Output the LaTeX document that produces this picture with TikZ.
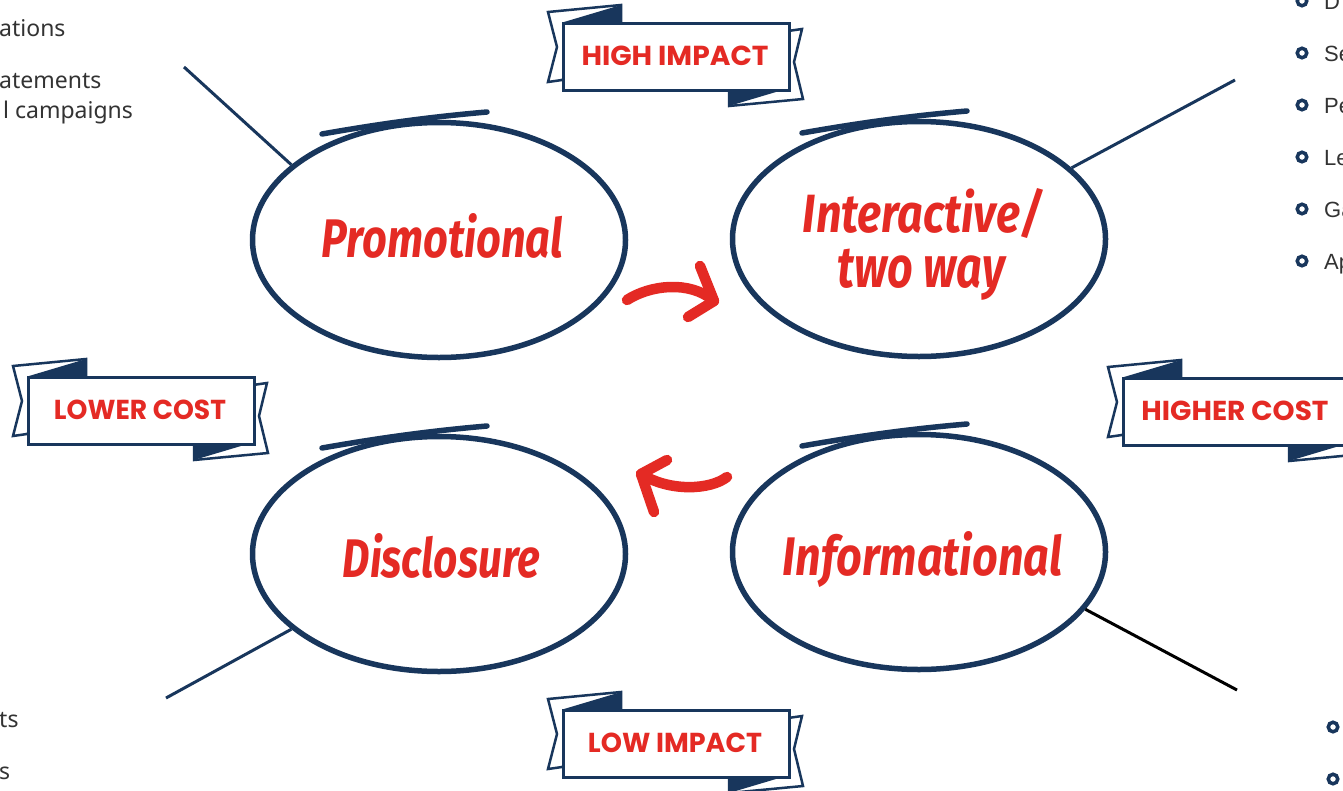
\documentclass[tikz,border=0pt]{standalone}
\usepackage{fontspec}
\setmainfont{Noto Sans}
\newfontfamily\bigfont{Fira Sans}
\newfontfamily\ribfont{Poppins}
\newfontfamily\listfont{Liberation Sans}
\usetikzlibrary{shapes.geometric,calc}
\definecolor{navy}{RGB}{24,54,92}
\definecolor{rred}{RGB}{228,42,36}
\definecolor{txtgray}{RGB}{51,51,51}
\tikzset{
  oval/.style={ellipse, draw=navy, line width=5.5pt, minimum width=373pt, minimum height=235pt, inner sep=0pt},
  overstroke/.style={draw=navy, line width=5.5pt, line cap=round},
  link/.style={draw=navy, line width=3pt},
  blacklink/.style={draw=black, line width=3pt},
  bigword/.style={text=rred, inner sep=0pt, anchor=base},
  redarrow/.style={draw=rred, line width=10.5pt, line cap=round, line join=round},
  ribbonpiece/.style={draw=navy, fill=white, line width=2.5pt, line join=miter},
  ribbonfold/.style={fill=navy},
  ribbonbox/.style={draw=navy, fill=white, line width=2.5pt, minimum width=226pt, minimum height=67pt, inner sep=0pt, anchor=north west},
  ribtext/.style={text=rred, inner sep=0pt},
  cuttext/.style={text=txtgray, font=\fontsize{23}{27}\selectfont, inner sep=0pt, anchor=base west},
  bullet/.style={circle, draw=navy, line width=3.5pt, minimum size=9.5pt, inner sep=0pt},
  bullettext/.style={text=txtgray, font=\listfont\fontsize{22}{26}\selectfont, inner sep=0pt, anchor=base west},
}
\newcommand\BigWord[2]{\resizebox{#1}{44pt}{\bigfont\bfseries\itshape\vphantom{l}#2}}
\newcommand\RibText[2]{\resizebox{#1}{19.5pt}{\ribfont\bfseries #2}}
\newcommand\Ribbon[5]{%
  \begin{scope}[shift={(#2,#3)}]
    \draw[ribbonpiece] (0,58) -- (-14,60) -- (-5,25) -- (-14,-10) -- (59,-17) -- (59,0) -- cycle;
    \fill[ribbonfold] (2,0) -- (59,-17) -- (59,0) -- cycle;
    \draw[ribbonpiece] (226,9) -- (240,7) -- (232,40) -- (241,77) -- (167,84) -- (167,67) -- cycle;
    \fill[ribbonfold] (224,67) -- (167,84) -- (167,67) -- cycle;
    \node[ribbonbox] (#1) at (0,0) {};
    \node[ribtext] (#1-t) at (113,33.5) {\RibText{#4}{#5}};
  \end{scope}}
\newcommand\OverStroke[1]{%
  \draw[overstroke] ([shift={(-117,-106)}]#1.center) .. controls ([shift={(-60,-116)}]#1.center) and ([shift={(-10,-123)}]#1.center) .. ([shift={(48,-128)}]#1.center);}
\begin{document}
\begin{tikzpicture}[x=1pt,y=-1pt]
\useasboundingbox (0,0) rectangle (1343,790);
\clip (0,0) rectangle (1343,790);
\fill[white] (0,0) rectangle (1343,790);

% side texts (cut off at the picture's edges)
\node[cuttext] (ta) at (-1,36) {ations};
\node[cuttext] (tb) at (-1,88) {atements};
\node[cuttext] (tc) at (3,118) {l campaigns};
\node[cuttext] (td) at (-1,727) {ts};
\node[cuttext] (te) at (-1,779) {s};

\foreach \i/\yy/\w in {1/1/D,2/53/Se,3/105/Pe,4/157/Le,5/209/Ga,6/261/Ap}{
  \node[bullet] (b\i) at (1302,\yy) {};
  \node[bullettext] (bt\i) at (1324,\yy+8) {\w};
}
\node[bullet] (b7) at (1333,727) {};
\node[bullet] (b8) at (1333,779) {};

% ovals
\node[oval] (prom) at (439,240) {};
\node[oval] (inter) at (919,239) {};
\node[oval] (disc) at (439,554) {};
\node[oval] (info) at (919,552) {};
\OverStroke{prom}
\OverStroke{inter}
\OverStroke{disc}
\OverStroke{info}

\node[bigword] (promt) at (442.5,257) {\BigWord{241pt}{Promotional}};
\node[bigword] (intert1) at (923,232) {\BigWord{240pt}{Interactive/}};
\node[bigword] (intert2) at (921.5,287) {\BigWord{167pt}{two way}};
\node[bigword] (disct) at (441.5,577) {\BigWord{197pt}{Disclosure}};
\node[bigword] (infot) at (922.5,575) {\BigWord{279pt}{Informational}};

% connector lines
\coordinate (pl) at (184,67);
\coordinate (ir) at (1235,80);
\coordinate (dl) at (166,698);
\coordinate (fr) at (1237,690);
\draw[link] (pl) -- (prom.153);
\draw[link] (inter.25) -- (ir);
\draw[link] (disc.207) -- (dl);
\draw[blacklink] (info.-19) -- (fr);

% red arrows
\coordinate (a1s) at (627,300);
\coordinate (a1t) at (714,301);
\coordinate (a1h1) at (700,266);
\coordinate (a1h2) at (688,317);
\draw[redarrow] (a1s) .. controls (650,285) and (690,280) .. (a1t);
\draw[redarrow] (a1h1) -- (a1t) -- (a1h2);
\coordinate (a2s) at (727,477);
\coordinate (a2t) at (641,474);
\coordinate (a2h1) at (667,460);
\coordinate (a2h2) at (654,512);
\draw[redarrow] (a2s) .. controls (710,490) and (670,492) .. (a2t);
\draw[redarrow] (a2h1) -- (a2t) -- (a2h2);

% ribbons
\Ribbon{rhigh}{562}{22}{187pt}{HIGH IMPACT}
\Ribbon{rlower}{27}{376}{172pt}{LOWER COST}
\Ribbon{rhigher}{1122}{377}{187pt}{HIGHER COST}
\Ribbon{rlow}{562}{709}{174pt}{LOW IMPACT}
\end{tikzpicture}
\end{document}
